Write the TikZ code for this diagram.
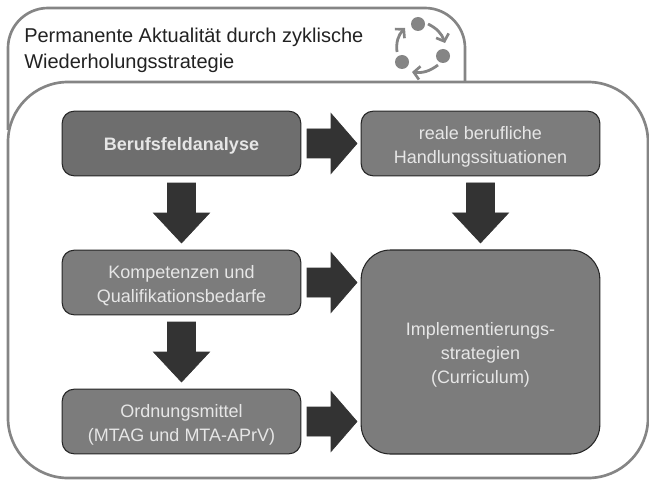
\documentclass[tikz,border=0pt]{standalone}
\usepackage{fontspec}
\setmainfont{Liberation Sans}
\usetikzlibrary{arrows.meta,calc}
\definecolor{framegray}{HTML}{858585}
\definecolor{boxgray}{HTML}{7C7C7C}
\definecolor{boxdark}{HTML}{6E6E6E}
\definecolor{arrowdark}{HTML}{333333}
\definecolor{lighttext}{HTML}{E6E6E6}
\definecolor{titletext}{HTML}{222222}
\tikzset{
  framepath/.style={draw=framegray,line width=2pt},
  stagebox/.style={draw=black!85,fill=boxgray,line width=0.8pt,rounded corners=9pt,
    minimum width=179pt,minimum height=48.5pt,inner sep=0pt,outer sep=0pt},
  boxtext/.style={inner sep=0pt,align=center,text=lighttext,font=\fontsize{13.5}{18}\selectfont},
  blockfill/.style={draw=black!80,fill=arrowdark,line width=0.5pt,line join=miter},
  rightblock/.pic={\draw[blockfill] (-25,-14.5) -- (-1,-14.5) -- (-1,-30) -- (25,0) -- (-1,30) -- (-1,14.5) -- (-25,14.5) -- cycle;},
  downblock/.pic={\draw[blockfill] (-14,-30) -- (14,-30) -- (14,0) -- (28,0) -- (0,30) -- (-28,0) -- (-14,0) -- cycle;},
  icondot/.style={circle,fill=framegray,minimum size=10.5pt,inner sep=0pt},
  iconarrow/.style={draw=framegray,line width=2.1pt,-{Straight Barb[length=4.5pt,width=10pt,line width=2pt]}},
  titlenode/.style={align=left,anchor=north west,inner sep=0pt,text=titletext,
    font=\fontsize{15}{19}\selectfont}
}
\begin{document}
\begin{tikzpicture}[x=0.75pt,y=-0.75pt]
\useasboundingbox (0,0) rectangle (649,481);
% frames
\coordinate (fa) at (8,130);
\coordinate (fb) at (465,82);
\draw[framepath] (fa) -- (8,48) arc[start angle=180,end angle=90,radius=30pt] -- (425,8)
  arc[start angle=90,end angle=0,radius=30pt] -- (fb);
\node[draw=framegray,line width=2pt,rounded corners=45pt,minimum width=480pt,minimum height=297pt,
  inner sep=0pt,outer sep=0pt,anchor=north west] (inner) at (8,82) {};
% title
\node[titlenode] (title) at (24,28) {Permanente Aktualität durch zyklische\\Wiederholungsstrategie};
% boxes
\node[stagebox,fill=boxdark] (berufs) at (181.5,143.5) {};
\node[stagebox] (real) at (480.5,143.5) {};
\node[stagebox] (komp) at (181.5,282.5) {};
\node[stagebox] (ord) at (181.5,421.5) {};
\node[stagebox,rounded corners=22pt,minimum height=153pt] (impl) at (480.5,352) {};
% box texts
\node[boxtext,font=\fontsize{13.5}{18}\selectfont\bfseries] (berufstext) at ($(berufs)+(0,2)$) {Berufsfeldanalyse};
\node[boxtext] (realtext) at ($(real)+(0,3.5)$) {reale berufliche\\Handlungssituationen};
\node[boxtext] (komptext) at ($(komp)+(0,3.5)$) {Kompetenzen und\\Qualifikationsbedarfe};
\node[boxtext] (ordtext) at ($(ord)+(0,3.5)$) {Ordnungsmittel\\(MTAG und MTA-APrV)};
\node[boxtext] (impltext) at ($(impl)+(0,3)$) {Implementierungs-\\strategien\\(Curriculum)};
% block arrows
\path (berufs.east) -- (real.west) pic[midway,xshift=0.75pt] {rightblock};
\path (berufs.south) -- (komp.north) pic[midway] {downblock};
\path (komp.south) -- (ord.north) pic[midway] {downblock};
\path (real.south) -- (real.south |- impl.north) pic[midway] {downblock};
\path (komp.east) -- (komp.east -| impl.west) pic[midway,xshift=0.75pt] {rightblock};
\path (ord.east) -- (ord.east -| impl.west) pic[midway,xshift=0.75pt] {rightblock};
% cycle icon
\node[icondot] (d1) at (418,24) {};
\node[icondot] (d2) at (443,56) {};
\node[icondot] (d3) at (402,62) {};
\draw[iconarrow] ($(d1)+(10,0)$) to[bend left=22] ($(d2)+(2,-13)$);
\draw[iconarrow] ($(d2)+(-5,9)$) to[bend left=22] ($(d3)+(10,10)$);
\draw[iconarrow] ($(d3)+(-5,-10)$) to[bend left=25] ($(d1)+(-13,4)$);
\end{tikzpicture}
\end{document}
